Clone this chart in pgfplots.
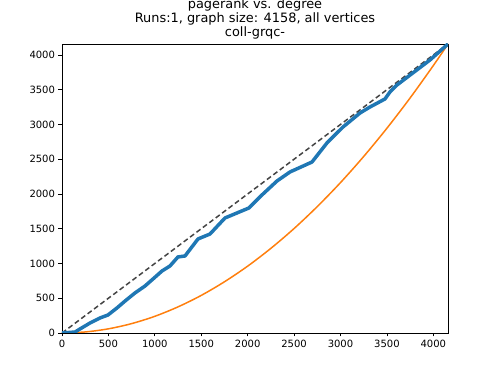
\documentclass[border=0pt]{standalone}
\usepackage{fontspec}
\setmainfont{DejaVu Sans}
\usepackage{pgfplots}
\pgfplotsset{compat=1.18}
\definecolor{mplblue}{HTML}{1F77B4}
\definecolor{mplorange}{HTML}{FF7F0E}
\definecolor{refgray}{HTML}{444444}
\begin{document}
\begin{tikzpicture}
\useasboundingbox (-62pt,-41pt) rectangle (436pt,333pt);
\begin{axis}[
  at={(0,0)}, anchor=south west,
  scale only axis,
  width=386pt, height=289pt,
  xmin=0, xmax=4158, ymin=0, ymax=4158,
  xtick={0,500,...,4000}, ytick={0,500,...,4000},
  scaled ticks=false,
  /pgf/number format/1000 sep={},
  /pgf/number format/assume math mode=true,
  tick label style={font=\fontsize{10}{12}\selectfont},
  tick align=outside, tick pos=left,
  major tick length=3.5pt,
  axis line style={line width=0.8pt},
  every tick/.style={black, line width=0.8pt},
  title={pagerank vs. degree\\Runs:1, graph size: 4158, all vertices\\coll-grqc-},
  title style={align=center, font=\fontsize{12.9}{14}\selectfont, inner sep=0pt,
    at={(0.5,1)}, anchor=south, yshift=-1.5pt},
]
% diagonal reference
\addplot[refgray, line width=1.5pt, dash pattern=on 5pt off 3pt] coordinates {(0,0) (4158,4158)};
% quadratic curve
\addplot[mplorange, line width=1.5pt, smooth] coordinates {
(0,0) (250,15) (500,60) (750,135) (1000,240) (1250,376) (1500,541)
(1750,737) (2000,962) (2250,1218) (2500,1503) (2750,1819) (3000,2164)
(3250,2540) (3500,2946) (3750,3382) (4000,3848) (4158,4158)
};
% pagerank vs degree
\addplot[mplblue, line width=3.5pt, line join=round] coordinates {
(0,0) (140,14) (194,58) (302,144) (409,216) (495,259) (592,360)
(679,460) (786,576) (894,676) (980,777) (1077,892) (1163,964)
(1249,1094) (1325,1108) (1465,1353) (1594,1424) (1756,1655)
(1885,1727) (2014,1799) (2154,1986) (2316,2187) (2456,2317)
(2693,2460) (2854,2734) (3027,2964) (3210,3165) (3318,3252)
(3479,3367) (3533,3468) (3608,3568) (3964,3928) (4158,4158)
};
\end{axis}
\end{tikzpicture}
\end{document}
